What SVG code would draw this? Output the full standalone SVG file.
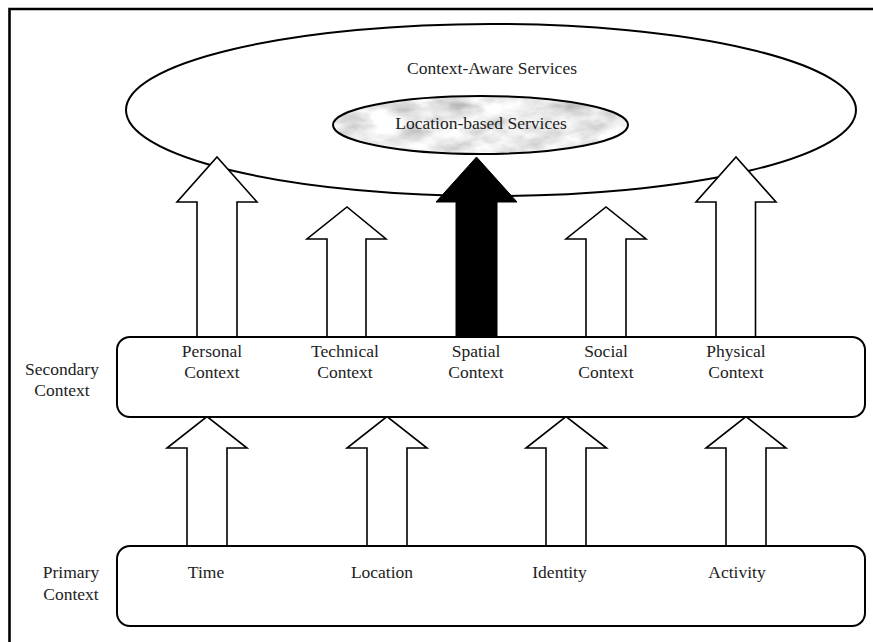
<svg xmlns="http://www.w3.org/2000/svg" width="873" height="642" viewBox="0 0 873 642">
<style>
text{font-family:'Liberation Serif','DejaVu Serif','Times New Roman',Times,serif;font-size:17.5px;fill:#222;text-anchor:middle}
.box{fill:#fff;stroke:#000;stroke-width:2}
.arr{fill:#fff;stroke:#000;stroke-width:1.6;stroke-linejoin:miter}
.arrb{fill:#000;stroke:#000;stroke-width:1}
</style>
<defs>
<filter id="marbleF" x="0" y="0" width="100%" height="100%">
<feTurbulence type="fractalNoise" baseFrequency="0.03 0.06" numOctaves="4" seed="7" result="n"/>
<feColorMatrix in="n" type="matrix" values="0.5 0.5 0.5 0 0.08  0.5 0.5 0.5 0 0.08  0.5 0.5 0.5 0 0.08  0 0 0 0 1"/>
</filter>
<clipPath id="innerClip"><ellipse cx="480.5" cy="125" rx="147.5" ry="29"/></clipPath>
</defs>
<rect x="0" y="0" width="873" height="642" fill="#fff"/>
<path d="M9.5 642 V9 H873" fill="none" stroke="#000" stroke-width="2.6"/>
<g id="context-aware-services">
<ellipse cx="491" cy="110" rx="365" ry="86" fill="#fff" stroke="#000" stroke-width="2"/>
<text x="492" y="74">Context-Aware Services</text>
</g>
<g id="location-based-services">
<g clip-path="url(#innerClip)"><rect x="330" y="94" width="302" height="63" fill="#d4d4d4" filter="url(#marbleF)"/></g>
<ellipse cx="480.5" cy="125" rx="147.5" ry="29" fill="none" stroke="#000" stroke-width="2"/>
<text x="481" y="129">Location-based Services</text>
</g>
<g id="connectors">
<polygon class="arr" points="197,337 197,202 177,202 217,157 257,202 237,202 237,337"/>
<polygon class="arr" points="327,337 327,239 307,239 347,207 386,239 366,239 366,337"/>
<polygon class="arrb" points="456,337 456,202 436,202 476.5,157 517,202 497,202 497,337"/>
<polygon class="arr" points="586,337 586,239 566,239 606,207 646,239 626,239 626,337"/>
<polygon class="arr" points="716,337 716,202 696,202 736,157 776,202 755.5,202 755.5,337"/>
<polygon class="arr" points="187,546 187,448 167,448 207,416.5 247,448 227,448 227,546"/>
<polygon class="arr" points="367,546 367,448 347,448 387,416.5 427,448 407,448 407,546"/>
<polygon class="arr" points="546,546 546,448 526,448 566,416.5 606.5,448 586,448 586,546"/>
<polygon class="arr" points="726,546 726,448 706,448 746,416.5 786,448 766,448 766,546"/>
</g>
<g id="secondary-context">
<rect class="box" x="117" y="337" width="748" height="80" rx="13"/>
<text x="62" y="375">Secondary</text>
<text x="62" y="396">Context</text>
</g>
<g id="personal-context"><text x="212" y="357">Personal</text><text x="212" y="378">Context</text></g>
<g id="technical-context"><text x="345" y="357">Technical</text><text x="345" y="378">Context</text></g>
<g id="spatial-context"><text x="476" y="357">Spatial</text><text x="476" y="378">Context</text></g>
<g id="social-context"><text x="606" y="357">Social</text><text x="606" y="378">Context</text></g>
<g id="physical-context"><text x="736" y="357">Physical</text><text x="736" y="378">Context</text></g>
<g id="primary-context">
<rect class="box" x="117" y="546" width="748" height="80" rx="13"/>
<text x="71" y="578">Primary</text>
<text x="71" y="600">Context</text>
</g>
<g id="time"><text x="206" y="578">Time</text></g>
<g id="location"><text x="382" y="578">Location</text></g>
<g id="identity"><text x="559.5" y="578">Identity</text></g>
<g id="activity"><text x="737" y="578">Activity</text></g>
</svg>
